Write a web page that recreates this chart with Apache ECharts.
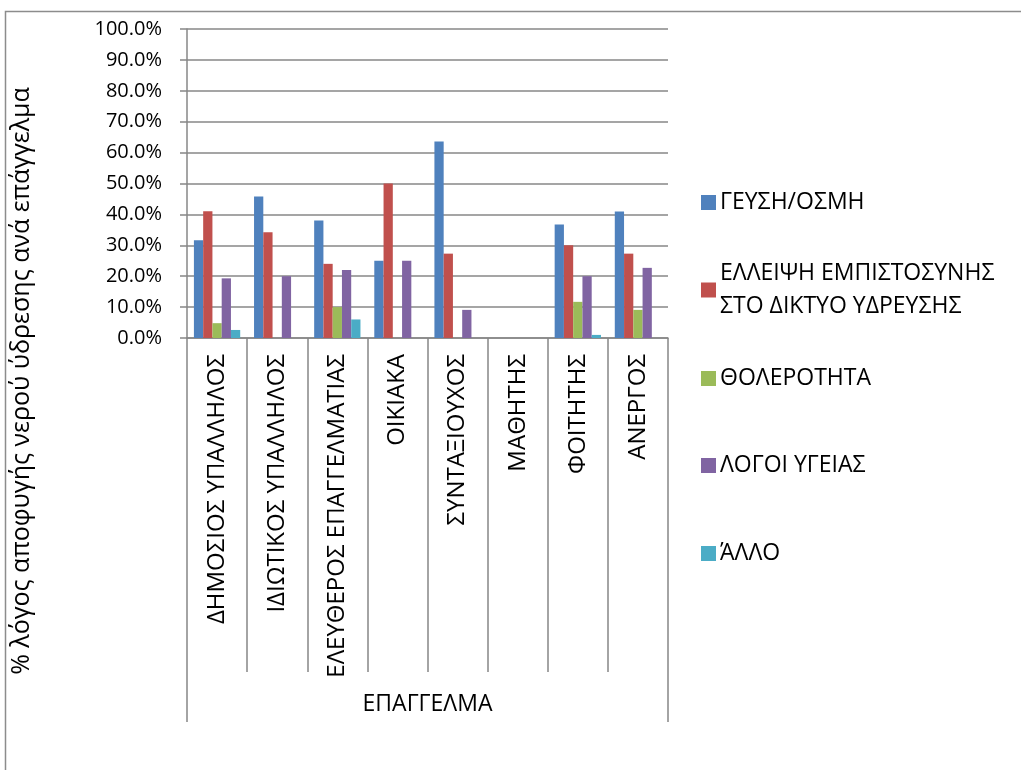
<!DOCTYPE html>
<html>
<head>
<meta charset="utf-8">
<script src="https://cdn.jsdelivr.net/npm/echarts@6/dist/echarts.min.js"></script>
<style>html,body{margin:0;padding:0;background:#fff}#c{width:1021px;height:770px}</style>
</head>
<body>
<div id="c"></div>
<script>
const categories = ['ΔΗΜΟΣΙΟΣ ΥΠΑΛΛΗΛΟΣ','ΙΔΙΩΤΙΚΟΣ ΥΠΑΛΛΗΛΟΣ','ΕΛΕΥΘΕΡΟΣ ΕΠΑΓΓΕΛΜΑΤΙΑΣ','ΟΙΚΙΑΚΑ','ΣΥΝΤΑΞΙΟΥΧΟΣ','ΜΑΘΗΤΗΣ','ΦΟΙΤΗΤΗΣ','ΑΝΕΡΓΟΣ'];
const outerCategory = ['ΕΠΑΓΓΕΛΜΑ'];
const seriesNames = ['ΓΕΥΣΗ/ΟΣΜΗ','ΕΛΛΕΙΨΗ ΕΜΠΙΣΤΟΣΥΝΗΣ\nΣΤΟ ΔΙΚΤΥΟ ΥΔΡΕΥΣΗΣ','ΘΟΛΕΡΟΤΗΤΑ','ΛΟΓΟΙ ΥΓΕΙΑΣ','ΆΛΛΟ'];
const taste   = [31.6, 45.8, 38.0, 25.0, 63.6, 0, 36.7, 40.9];
const trust   = [41.0, 34.2, 24.0, 50.0, 27.3, 0, 30.0, 27.3];
const turbid  = [4.8, 0, 10.0, 0, 0, 0, 11.7, 9.1];
const health  = [19.3, 20.0, 22.0, 25.0, 9.1, 0, 20.0, 22.7];
const other   = [2.6, 0, 6.0, 0, 0, 0, 1.0, 0];
const yTitle = '% λόγος αποφυγής νερού ύδρεσης ανά επάγγελμα';
const colors = ['#4F81BD','#C0504D','#9BBB59','#8064A2','#4BACC6'];
const values = [taste, trust, turbid, health, other];

const FONT = '"Open Sans", "DejaVu Sans", sans-serif';
const gray = '#878787';
const chart = echarts.init(document.getElementById('c'), null, {renderer:'canvas'});

const legendTops = [181, 235.5, 357, 444, 532];
const legends = seriesNames.map((n, i) => ({
  data: [n],
  orient: 'vertical',
  left: 696,
  top: legendTops[i],
  itemWidth: 15, itemHeight: 15,
  icon: 'rect',
  selectedMode: false,
  itemGap: 0,
  textStyle: {
    fontFamily: FONT, fontSize: 23, color: '#000', lineHeight: 33,
    padding: i === 1 ? [33, 0, 0, -1] : [0, 0, 0, -1]
  }
}));

chart.setOption({
  animation: false,
  color: colors,
  textStyle: {fontFamily: FONT},
  grid: {left: 187, top: 29, right: 353, bottom: 432, containLabel: false},
  legend: legends,
  xAxis: [{
    type: 'category',
    data: categories,
    position: 'bottom',
    axisLine: {lineStyle: {color: gray, width: 1.5}},
    axisTick: {show: true, interval: 0, length: 334, lineStyle: {color: gray, width: 1.5}},
    axisLabel: {interval: 0, rotate: 90, margin: 16, fontFamily: FONT, fontSize: 24, color: '#000'}
  }, {
    type: 'category',
    data: outerCategory,
    position: 'bottom',
    axisLine: {show: false},
    axisTick: {show: true, length: 384, lineStyle: {color: gray, width: 1.5}},
    axisLabel: {margin: 355, fontFamily: FONT, fontSize: 23, color: '#000'}
  }],
  yAxis: {
    type: 'value',
    min: 0, max: 100, interval: 10,
    axisLine: {show: true, lineStyle: {color: gray, width: 1.5}},
    axisTick: {show: true, length: 7, lineStyle: {color: gray, width: 1.5}},
    axisLabel: {fontFamily: FONT, fontSize: 20, color: '#000', margin: 25,
      formatter: v => v.toFixed(1) + '%'},
    splitLine: {show: true, lineStyle: {color: gray, width: 1.5}}
  },
  series: seriesNames.map((n, i) => ({
    name: n,
    type: 'bar',
    xAxisIndex: 0,
    data: values[i],
    barGap: '0%',
    barCategoryGap: '23%',
    itemStyle: {color: colors[i]}
  })),
  graphic: [{
    type: 'rect',
    shape: {x: 5.5, y: 11.5, width: 1100, height: 900},
    style: {fill: null, stroke: '#8c8c8c', lineWidth: 1.5},
    silent: true, z: -1
  }, {
    type: 'text',
    x: 22, y: 381,
    rotation: Math.PI / 2,
    style: {text: yTitle, font: '25px ' + FONT, fill: '#000', textAlign: 'center', textVerticalAlign: 'middle'}
  }]
});
</script>
</body>
</html>
